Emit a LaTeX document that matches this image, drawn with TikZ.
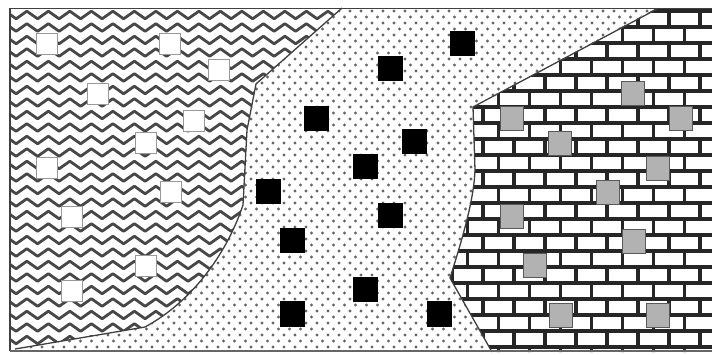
\documentclass[tikz,border=0pt]{standalone}
\usetikzlibrary{decorations.pathmorphing}
\begin{document}
\begin{tikzpicture}[x=1pt,y=-1pt,
  wsq/.style={draw=gray!80, line width=0.8pt, fill=white, minimum size=21pt, inner sep=0pt},
  bsq/.style={fill=black, minimum size=25pt, inner sep=0pt},
  gsq/.style={draw=gray!70!black, line width=0.9pt, fill=gray!60, minimum width=23pt, minimum height=24pt, inner sep=0pt},
  wave/.style={draw=black!72, line width=2.8pt, line join=round, decorate, decoration={zigzag, segment length=21.5pt, amplitude=3.8pt}},
  mortar/.style={draw=black!85, line width=3.5pt},
  edge/.style={draw=black!75, line width=1.3pt},
  dot/.style={fill=black!60}
]
\useasboundingbox (0,0) rectangle (712,355);
\fill[white] (0,0) rectangle (712,355);
% dotted background (middle region)
\begin{scope}
\clip (10,8) rectangle (712,351);
\foreach \r in {0,...,57}{
  \foreach \c in {0,...,60}{
    \fill[dot] ({9+11*\c+5.5*mod(\r,2)},{11+6*\r}) circle (1.6);
  }
}
\end{scope}
% left region: waves
\fill[white] (10,8) -- (342,8) -- (256,84) -- (247,130) -- (243,205) .. controls (228,250) and (195,300) .. (145,327) -- (15,349) -- (10,350) -- cycle;
\begin{scope}
\clip (10,8) -- (342,8) -- (256,84) -- (247,130) -- (243,205) .. controls (228,250) and (195,300) .. (145,327) -- (15,349) -- (10,350) -- cycle;
\foreach \k in {0,...,27}{
  \draw[wave] (0,{15+12.5*\k}) -- (370,{15+12.5*\k});
}
\end{scope}
\draw[edge] (342,8) -- (256,84) -- (247,130) -- (243,205) .. controls (228,250) and (195,300) .. (145,327) -- (15,349);
% right region: bricks
\fill[white] (657,8) -- (714,8) -- (714,352) -- (492,352) -- (450,278) .. controls (462,240) and (474,200) .. (475,170) -- (473,107) -- cycle;
\begin{scope}
\clip (657,8) -- (714,8) -- (714,352) -- (492,352) -- (450,278) .. controls (462,240) and (474,200) .. (475,170) -- (473,107) -- cycle;
\foreach \k in {0,...,21}{
  \draw[mortar] (440,{11+16*\k}) -- (714,{11+16*\k});
  \foreach \j in {-8,...,2}{
    \draw[mortar] ({669-15.5*mod(\k,2)+31*\j},{11+16*\k}) -- ++(0,16);
  }
}
\end{scope}
\draw[edge] (657,9) -- (473,107) -- (475,170) .. controls (474,200) and (462,240) .. (450,278) -- (492,352);
% frame
\draw[edge] (714,8.5) -- (10,8.5) -- (10,350.5);
\draw[draw=black!60, line width=2.5pt] (10,351) -- (714,351);
% squares
\foreach \p [count=\i] in {(47,44),(170,44),(219,70),(98,94),(194,121),(146,143),(47,168),(171,192),(72,217),(146,266),(72,291)}
  \node[wsq] (w\i) at \p {};
\foreach \p [count=\i] in {(462,44),(390,69),(316,119),(414,142),(365,167),(268,192),(390,216),(292,241),(365,290),(292,314),(439,314)}
  \node[bsq] (b\i) at \p {};
\foreach \p [count=\i] in {(633,93),(512,118),(681,118),(560,143),(658,168),(608,192),(512,216),(634,241),(535,265),(561,315),(658,315)}
  \node[gsq] (g\i) at \p {};
\end{tikzpicture}
\end{document}
